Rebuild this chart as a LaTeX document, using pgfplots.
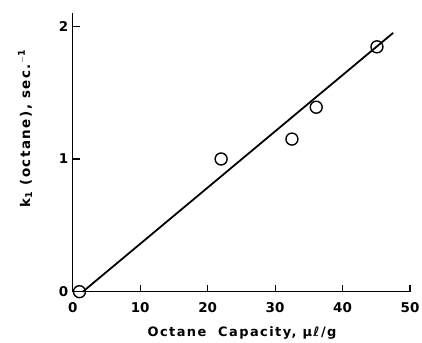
\documentclass[border=0pt]{standalone}
\usepackage{pgfplots}
\pgfplotsset{compat=1.18}
\usepackage{fontspec}
\setmainfont{DejaVu Sans}
\newfontfamily\lblfont[LetterSpace=11]{DejaVu Sans}
\begin{document}
\begin{tikzpicture}
\useasboundingbox (-72.7bp,-51.3bp) rectangle (349.3bp,291.7bp);
\begin{axis}[
  at={(0,0)}, anchor=origin,
  scale only axis,
  width=337.3bp, height=278.7bp,
  xmin=0, xmax=50, ymin=0, ymax=2.1,
  axis lines=left,
  axis line style={-, line width=1.1pt},
  xtick={0,10,20,30,40,50},
  ytick={0,1,2},
  tick align=inside,
  major tick length=7bp,
  tick style={line width=1.1pt, black},
  /pgf/number format/assume math mode=true,
  tick label style={font=\fontsize{13.5}{15}\selectfont\bfseries},
  xticklabel style={yshift=-7bp},
  yticklabel style={xshift=-1bp},
  xlabel={\lblfont\bfseries Octane\ \ Capacity, μℓ/g},
  xlabel style={at={(axis description cs:0.502,-0.147)}, anchor=center, font=\fontsize{13}{15}\selectfont},
  ylabel={\lblfont\bfseries k$_{\mathbf{1}}$ (octane), sec.$^{\mathbf{-1}}$},
  ylabel style={at={(axis description cs:-0.141,0.585)}, anchor=center, font=\fontsize{13.5}{15}\selectfont},
  clip=false,
]
\addplot[black, line width=1.8pt] coordinates {(1.5,0.0) (47.5,1.95)};
\addplot[only marks, mark=o, mark size=6bp, mark options={line width=1.4pt, fill=white, draw=black}] coordinates {
  (1.0,0.0) (22.0,1.0) (32.5,1.15) (36.1,1.39) (45.1,1.845)
};
\end{axis}
\end{tikzpicture}
\end{document}
